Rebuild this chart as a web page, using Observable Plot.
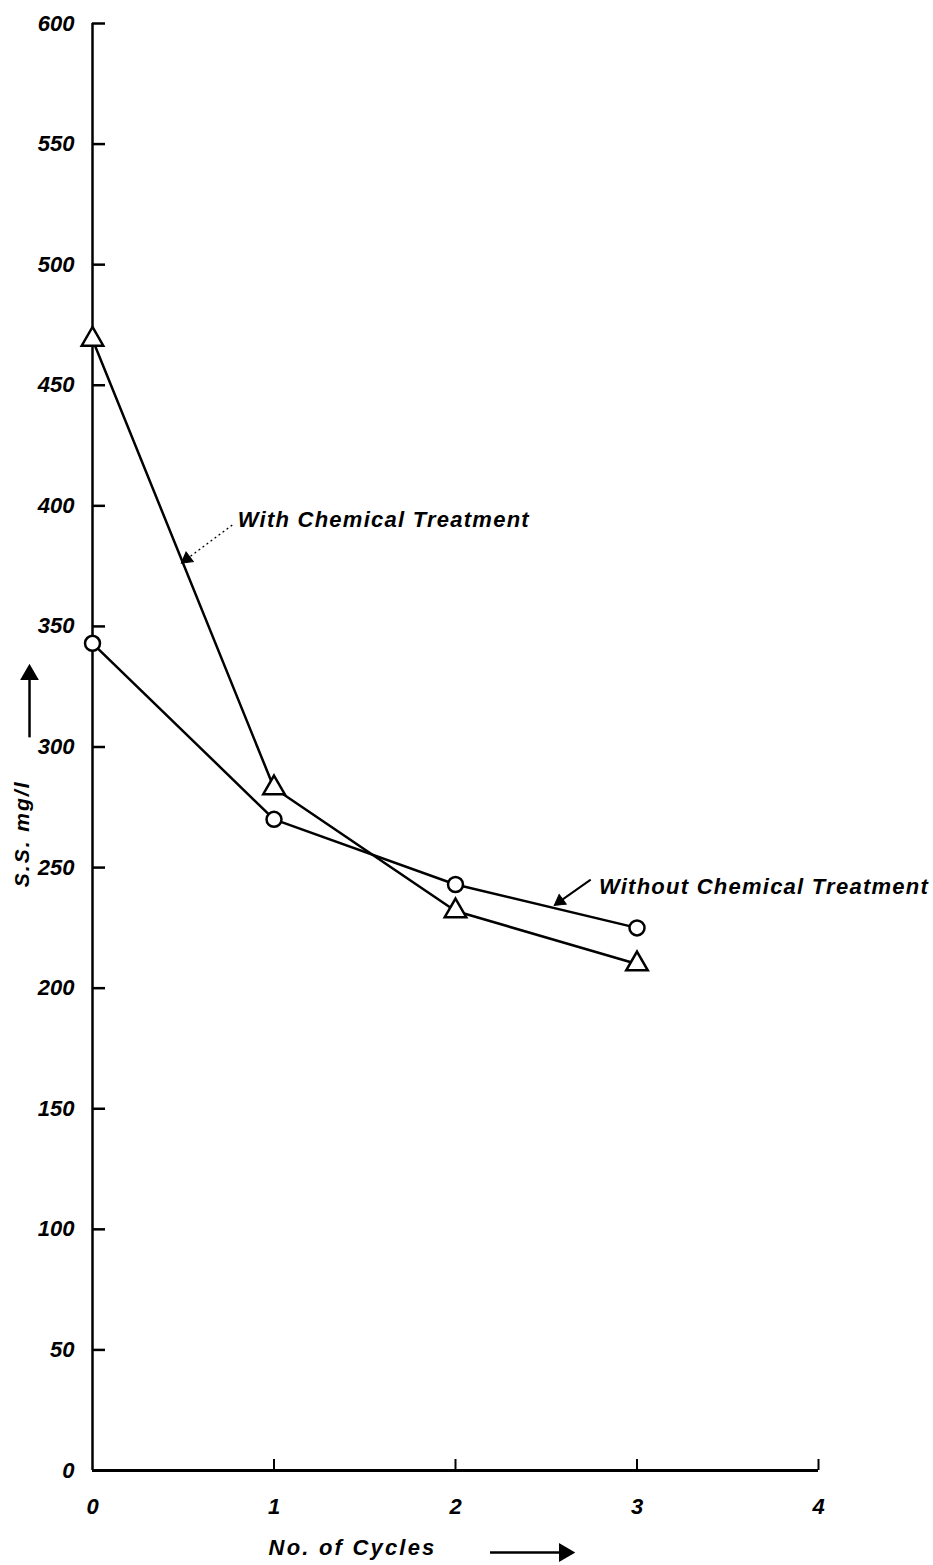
<!DOCTYPE html>
<html>
<head>
<meta charset="utf-8">
<script src="https://cdn.jsdelivr.net/npm/d3@7"></script>
<script src="https://cdn.jsdelivr.net/npm/@observablehq/plot@0.6"></script>
<style>
  body { margin: 0; background: #fff; }
  svg { display: block; }
</style>
</head>
<body>
<div id="chart"></div>
<script>
// Suspended solids (mg/l) after each treatment cycle
const cycles = [0, 1, 2, 3];
const withChemical = [469, 283, 232, 210];
const withoutChemical = [343, 270, 243, 225];

// Axis tick values
const xTicks = [0, 1, 2, 3, 4];
const yTicks = [0, 50, 100, 150, 200, 250, 300, 350, 400, 450, 500, 550, 600];

// Curve labels (data coordinates) and their pointers
const labelText = ["With Chemical Treatment", "Without Chemical Treatment"];
const labelX = [0.80, 2.79];
const labelY = [394, 242];
const pointerFrom = [[0.77, 392], [2.745, 245]];
const pointerTo = [[0.52, 378], [2.575, 236]];
const pointerAngle = [-127, -126];
const pointerDotted = [true, false];

const rowsWith = cycles.map((c, i) => ({cycle: c, ss: withChemical[i]}));
const rowsWithout = cycles.map((c, i) => ({cycle: c, ss: withoutChemical[i]}));
const labels = labelText.map((t, i) => ({text: t, x: labelX[i], y: labelY[i]}));
const pointers = labelText.map((t, i) => ({
  x1: pointerFrom[i][0], y1: pointerFrom[i][1],
  x2: pointerTo[i][0], y2: pointerTo[i][1],
  angle: pointerAngle[i], dotted: pointerDotted[i]
}));

// Axis titles and their direction arrows
const xTitle = {text: "No. of Cycles", x: 0.97, y: -32};
const xArrow = {x1: 2.19, x2: 2.60, y: -34};
const yTitle = {text: "S.S. mg/l", x: -0.385, y: 264};
const yArrow = {x: -0.347, y1: 304, y2: 330};

const W = 933, H = 1565;
const mL = 92, mR = 115, mT = 23, mB = 95;
const frameW = W - mL - mR, frameH = H - mT - mB;
const font = "'Liberation Sans', Arial, sans-serif";
const textStyle = {fontStyle: "italic", fontWeight: "bold", fill: "black"};

const chart = Plot.plot({
  width: W,
  height: H,
  marginLeft: mL,
  marginRight: mR,
  marginTop: mT,
  marginBottom: mB,
  x: {domain: [0, 4]},
  y: {domain: [0, 600]},
  style: {fontFamily: font, background: "white", color: "black"},
  marks: [
    // axis lines with inward ticks
    Plot.ruleX([0], {stroke: "black", strokeWidth: 2.5}),
    Plot.ruleY([0], {stroke: "black", strokeWidth: 3}),
    Plot.tickY(yTicks.filter(v => v > 0), {y: d => d, insetRight: frameW - 13, stroke: "black", strokeWidth: 2.5}),
    Plot.tickX(xTicks.filter(v => v > 0), {x: d => d, insetTop: frameH - 11, stroke: "black", strokeWidth: 2}),
    Plot.axisY(yTicks, {tickSize: 0, tickPadding: 18, fontSize: 22, fontStyle: "italic", fontWeight: "bold", tickFormat: d => String(d), label: null}),
    Plot.axisX(xTicks, {tickSize: 0, tickPadding: 28, fontSize: 22, fontStyle: "italic", fontWeight: "bold", tickFormat: d => String(d), label: null}),
    // series
    Plot.line(rowsWith, {x: "cycle", y: "ss", stroke: "black", strokeWidth: 2.5}),
    Plot.line(rowsWithout, {x: "cycle", y: "ss", stroke: "black", strokeWidth: 2.5}),
    Plot.dot(rowsWith, {x: "cycle", y: "ss", symbol: "triangle", r: 8, fill: "white", stroke: "black", strokeWidth: 2.5}),
    Plot.dot(rowsWithout, {x: "cycle", y: "ss", symbol: "circle", r: 7.5, fill: "white", stroke: "black", strokeWidth: 2.5}),
    // curve labels with pointers
    Plot.text(labels, {x: "x", y: "y", text: "text", textAnchor: "start", fontSize: 22, ...textStyle}),
    Plot.link(pointers.filter(d => d.dotted), {x1: "x1", y1: "y1", x2: "x2", y2: "y2", stroke: "black", strokeWidth: 1.3, strokeDasharray: "2,3"}),
    Plot.link(pointers.filter(d => !d.dotted), {x1: "x1", y1: "y1", x2: "x2", y2: "y2", stroke: "black", strokeWidth: 2}),
    Plot.dot(pointers, {x: "x2", y: "y2", symbol: "triangle", r: 4.5, rotate: "angle", fill: "black", stroke: "black", strokeWidth: 1}),
    // axis titles
    Plot.text([xTitle], {x: "x", y: "y", text: "text", textAnchor: "start", fontSize: 22, ...textStyle}),
    Plot.link([xArrow], {x1: "x1", x2: "x2", y1: "y", y2: "y", stroke: "black", strokeWidth: 2.5}),
    Plot.dot([xArrow], {x: "x2", y: "y", symbol: "triangle", r: 6, rotate: 90, fill: "black", stroke: "black"}),
    Plot.text([yTitle], {x: "x", y: "y", text: "text", rotate: -90, fontSize: 21, ...textStyle}),
    Plot.link([yArrow], {x1: "x", x2: "x", y1: "y1", y2: "y2", stroke: "black", strokeWidth: 2.5}),
    Plot.dot([yArrow], {x: "x", y: "y2", symbol: "triangle", r: 6, rotate: 0, fill: "black", stroke: "black"})
  ]
});

// Widen the lettering of the hand-lettered labels
const spacing = [["Treatment", "1.25px"], ["Cycles", "2.2px"], ["mg/l", "2px"]];
d3.select(chart).selectAll("text").each(function () {
  const t = this.textContent;
  for (const [key, ls] of spacing) if (t.includes(key)) this.style.letterSpacing = ls;
});

document.getElementById("chart").appendChild(chart);
</script>
</body>
</html>
